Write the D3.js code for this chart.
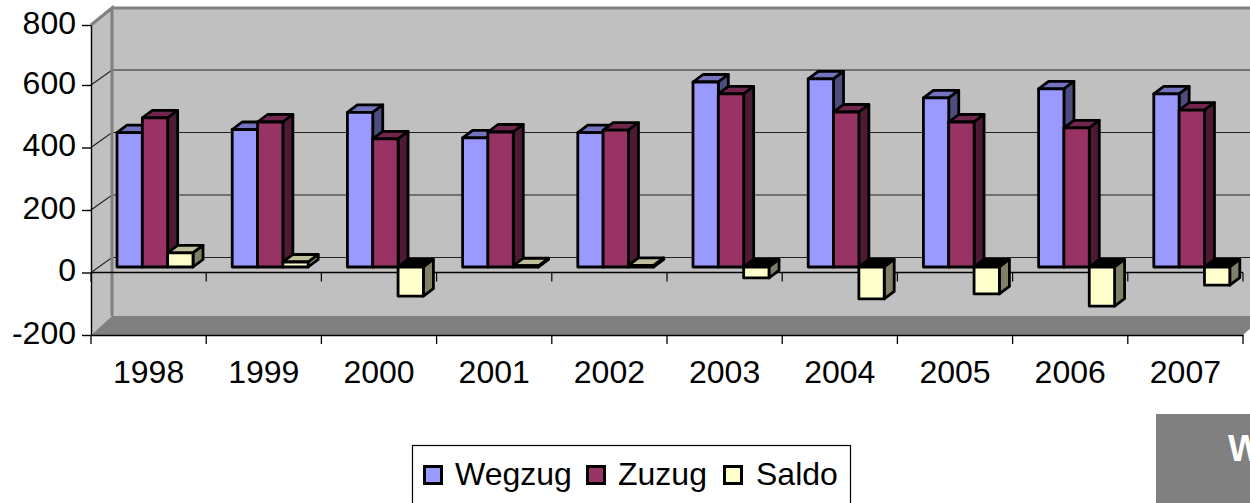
<!DOCTYPE html>
<html>
<head>
<meta charset="utf-8">
<script src="https://cdn.jsdelivr.net/npm/d3@7"></script>
<style>
  html, body { margin: 0; padding: 0; background: #fff; overflow: hidden; }
  text { font-family: "Liberation Sans", Arial, sans-serif; }
</style>
</head>
<body>
<svg></svg>
<script>
const years = ["1998", "1999", "2000", "2001", "2002", "2003", "2004", "2005", "2006", "2007"]
const seriesNames = ["Wegzug", "Zuzug", "Saldo"]
const wegzug = [430, 440, 495, 413, 430, 592, 602, 541, 570, 554]
const zuzug = [477, 464, 410, 432, 438, 554, 496, 464, 445, 502]
const saldo = [45, 16, -93, 4, 5, -35, -102, -86, -125, -58]
const yTicks = [-200, 0, 200, 400, 600, 800]

const faceColors = {
  Wegzug: { front: "#9999ff", top: "#7373bf", side: "#4d4d80" },
  Zuzug: { front: "#993366", top: "#73264d", side: "#4d1a33" },
  Saldo: { front: "#ffffcc", top: "#bfbf99", side: "#808066" }
}

const svgWidth = 1250
const svgHeight = 503
const wallDx = 21
const gridDy = -15
const wallTop = 8
const wallFloor = 316
const barDx = 10
const barDy = -7.5
const barShift = -5.5

const svg = d3.select("svg")
  .attr("width", svgWidth)
  .attr("height", svgHeight)
  .style("display", "block")

const xScale = d3.scaleBand()
  .domain(years)
  .range([91, 1243])
const barScale = d3.scaleBand()
  .domain(seriesNames)
  .range([26, 102])
// the top interval of the original axis is a little shorter than the rest
const yScale = d3.scaleLinear()
  .domain([-200, 600, 800])
  .range([335, 85, 25])

const polygon = (points, fill, stroke, width) => {
  svg.append("polygon")
    .attr("points", points.map((p) => p.join(",")).join(" "))
    .attr("fill", fill)
    .attr("stroke", stroke || "none")
    .attr("stroke-width", width || 0)
    .attr("stroke-linejoin", "round")
}

// walls and floor
const x0 = xScale.range()[0]
const x1 = xScale.range()[1]
const yTop = yScale(800)
const yBottom = yScale(-200)
polygon([[x0 + wallDx, wallTop], [x1 + wallDx, wallTop], [x1 + wallDx, wallFloor], [x0 + wallDx, wallFloor]], "#c0c0c0")
polygon([[x0, yTop], [x0 + wallDx, wallTop], [x0 + wallDx, wallFloor], [x0, yBottom]], "#c0c0c0")
polygon([[x0, yBottom], [x0 + wallDx, wallFloor], [x1 + wallDx, wallFloor], [x1, yBottom]], "#808080")

// gridlines on the back wall
yTicks.filter((d) => d > -200 && d < 800).forEach((d) => {
  svg.append("path")
    .attr("d", `M${x0},${yScale(d)}L${x0 + wallDx},${yScale(d) + gridDy}H${x1 + wallDx}`)
    .attr("fill", "none")
    .attr("stroke", "#222")
    .attr("stroke-width", 1.2)
})

// gray wall edge
svg.append("path")
  .attr("d", `M${x0},${yTop}L${x0 + wallDx},${wallTop}V${wallFloor}M${x0 + wallDx},${wallTop}H${x1 + wallDx}`)
  .attr("fill", "none")
  .attr("stroke", "#808080")
  .attr("stroke-width", 3)

// zero line sits in front of the wall, behind the bars
svg.append("line")
  .attr("x1", x0)
  .attr("x2", x1)
  .attr("y1", yScale(0))
  .attr("y2", yScale(0))
  .attr("stroke", "#000")
  .attr("stroke-width", 1.3)
years.concat("end").forEach((d, i) => {
  const tx = x0 + i * xScale.step()
  svg.append("line")
    .attr("x1", tx)
    .attr("x2", tx)
    .attr("y1", yScale(0))
    .attr("y2", yScale(0) + 9)
    .attr("stroke", "#000")
    .attr("stroke-width", 1.2)
})

const drawBar = (year, name, value) => {
  const colors = faceColors[name]
  const left = xScale(year) + barScale(name)
  const right = left + barScale.bandwidth()
  const base = yScale(0) + barShift
  const end = yScale(value) + barShift
  const top = Math.min(base, end)
  const bottom = Math.max(base, end)
  const topFill = value < 0 ? "#000" : colors.top
  polygon([[left, top], [left + barDx, top + barDy], [right + barDx, top + barDy], [right, top]], topFill, "#000", 2.8)
  polygon([[right, top], [right + barDx, top + barDy], [right + barDx, bottom + barDy], [right, bottom]], colors.side, "#000", 2.8)
  polygon([[left, top], [right, top], [right, bottom], [left, bottom]], colors.front, "#000", 2.8)
}

years.forEach((year, i) => {
  drawBar(year, "Wegzug", wegzug[i])
  drawBar(year, "Zuzug", zuzug[i])
  drawBar(year, "Saldo", saldo[i])
})

// axes
const yAxis = svg.append("g")
  .attr("transform", `translate(${x0},0)`)
  .call(d3.axisLeft(yScale).tickValues(yTicks).tickSize(9).tickPadding(6).tickSizeOuter(0).tickFormat((d) => String(d)))
yAxis.selectAll("text")
  .attr("font-size", 32)
  .attr("font-family", "Liberation Sans")
  .attr("fill", "#000")
  .attr("dy", 8)
yAxis.selectAll("line, path").attr("stroke", "#000").attr("stroke-width", 1.4)

const xAxis = svg.append("g")
  .attr("transform", `translate(0,${yBottom})`)
  .call(d3.axisBottom(xScale).tickSize(0).tickPadding(25).tickSizeOuter(0))
xAxis.selectAll("text")
  .attr("font-size", 32)
  .attr("font-family", "Liberation Sans")
  .attr("fill", "#000")
xAxis.select("path").attr("stroke", "#000").attr("stroke-width", 1.6)
years.concat("end").forEach((d, i) => {
  const tx = x0 + i * xScale.step()
  svg.append("line")
    .attr("x1", tx)
    .attr("x2", tx)
    .attr("y1", yBottom)
    .attr("y2", yBottom + 9)
    .attr("stroke", "#000")
    .attr("stroke-width", 1.3)
})

// legend
svg.append("rect")
  .attr("x", 412.5)
  .attr("y", 445.5)
  .attr("width", 438)
  .attr("height", 70)
  .attr("fill", "#fff")
  .attr("stroke", "#000")
  .attr("stroke-width", 1.2)
const legendX = { Wegzug: [424.5, 455], Zuzug: [587.5, 618], Saldo: [724.5, 756] }
seriesNames.forEach((name) => {
  svg.append("rect")
    .attr("x", legendX[name][0])
    .attr("y", 466.5)
    .attr("width", 17)
    .attr("height", 17)
    .attr("fill", faceColors[name].front)
    .attr("stroke", "#000")
    .attr("stroke-width", 3)
  svg.append("text")
    .text(name)
    .attr("x", legendX[name][1])
    .attr("y", 485)
    .attr("font-size", 32)
    .attr("fill", "#000")
})

// cut off box in the corner
svg.append("rect")
  .attr("x", 1156)
  .attr("y", 414)
  .attr("width", 94)
  .attr("height", 89)
  .attr("fill", "#808080")
svg.append("text")
  .text("W")
  .attr("x", 1228)
  .attr("y", 461)
  .attr("font-size", 36)
  .attr("font-weight", "bold")
  .attr("fill", "#fff")
</script>
</body>
</html>
